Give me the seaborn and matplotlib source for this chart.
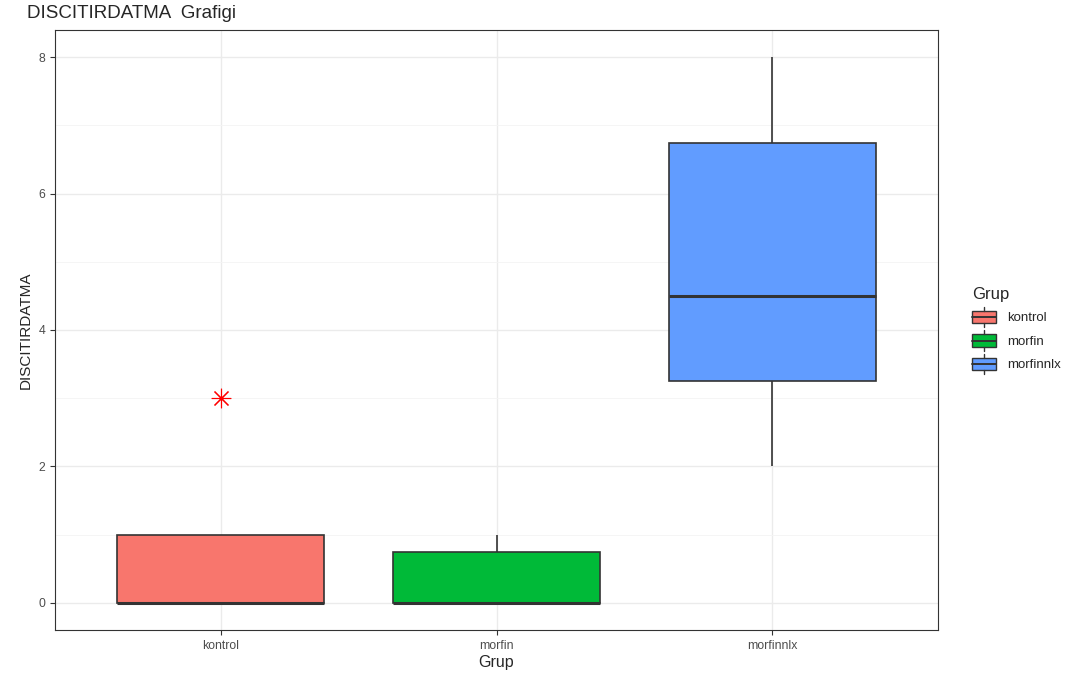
import matplotlib
matplotlib.use("Agg")
import matplotlib.pyplot as plt
from matplotlib.legend_handler import HandlerBase
from matplotlib.patches import Rectangle, Patch
from matplotlib.lines import Line2D
import seaborn as sns
import pandas as pd

# veriler (kutu istatistiklerinden geri okunmus)
groups = ['kontrol', 'morfin', 'morfinnlx']
kontrol = [0, 0, 0, 0, 0, 0, 1, 1, 1, 3]
morfin = [0, 0, 0, 0, 0, 0, 0, 1, 1, 1]
morfinnlx = [2, 2, 3, 4, 4, 5, 6, 7, 8, 8]
colors = ['#F8766D', '#00BA38', '#619CFF']
yticks = [0, 2, 4, 6, 8]

df = pd.DataFrame({
    'Grup': ['kontrol'] * len(kontrol) + ['morfin'] * len(morfin) + ['morfinnlx'] * len(morfinnlx),
    'DISCITIRDATMA': kontrol + morfin + morfinnlx,
})

sns.set_style('white')
plt.rcParams['font.family'] = ['Liberation Sans', 'DejaVu Sans']

fig = plt.figure(figsize=(10.82, 6.73), dpi=100)
ax = fig.add_axes([55 / 1082, 1 - 630 / 673, (938 - 55) / 1082, (630 - 30) / 673])

sns.boxplot(data=df, x='Grup', y='DISCITIRDATMA', hue='Grup', order=groups, hue_order=groups,
            palette=colors, width=0.75, linecolor='#333333', linewidth=1.2,
            saturation=1, legend=False, ax=ax, showcaps=False,
            medianprops=dict(linewidth=2.2, color='#333333'),
            flierprops=dict(marker=(8, 2, 0), markersize=14, markeredgecolor='#FF0000',
                            markerfacecolor='#FF0000', markeredgewidth=0.8))

ax.set_xlim(-0.6, 2.6)
ax.set_ylim(-0.4, 8.4)
ax.set_yticks(yticks)
ax.set_yticks([1, 3, 5, 7], minor=True)
ax.grid(True, which='major', color='#EBEBEB', linewidth=1.0)
ax.grid(True, which='minor', axis='y', color='#F4F4F4', linewidth=0.6)
ax.set_axisbelow(True)
for s in ax.spines.values():
    s.set_color('#333333')
    s.set_linewidth(0.8)
ax.tick_params(axis='both', which='major', length=3.5, width=0.8, color='#333333',
               labelcolor='#4D4D4D', labelsize=8.8, left=True, bottom=True)
ax.tick_params(axis='y', which='minor', length=0)
ax.set_xlabel('Grup', fontsize=11.5, labelpad=2)
ax.set_ylabel('DISCITIRDATMA', fontsize=11, labelpad=4)
fig.text(27 / 1082, 1 - 13 / 673, 'DISCITIRDATMA  Grafigi', fontsize=13.5, va='center', ha='left')


class HandlerBox(HandlerBase):
    def create_artists(self, legend, orig_handle, xdescent, ydescent, width, height, fontsize, trans):
        c = orig_handle.get_facecolor()
        w, h = width, height
        x0, y0 = -xdescent, -ydescent
        bh = 0.72 * h
        by = y0 + (h - bh) / 2
        r = Rectangle((x0, by), w, bh, facecolor=c, edgecolor='#333333', lw=1.0, transform=trans)
        m = Line2D([x0, x0 + w], [by + bh / 2] * 2, color='#333333', lw=1.4, transform=trans)
        xm = x0 + w / 2
        w1 = Line2D([xm, xm], [by + bh, y0 + h + 0.1 * h], color='#333333', lw=1.0, transform=trans)
        w2 = Line2D([xm, xm], [y0 - 0.1 * h, by], color='#333333', lw=1.0, transform=trans)
        return [r, m, w1, w2]


handles = [Patch(facecolor=c) for c in colors]
leg = fig.legend(handles, groups, handler_map={Patch: HandlerBox()}, title='Grup',
                 loc='upper left', bbox_to_anchor=(960 / 1082, 1 - 275 / 673),
                 frameon=False, fontsize=9.5, title_fontsize=12,
                 handlelength=1.8, handleheight=1.6, labelspacing=0.5, handletextpad=0.9)
leg._legend_box.align = 'left'

fig.savefig('out.png', dpi=100)
